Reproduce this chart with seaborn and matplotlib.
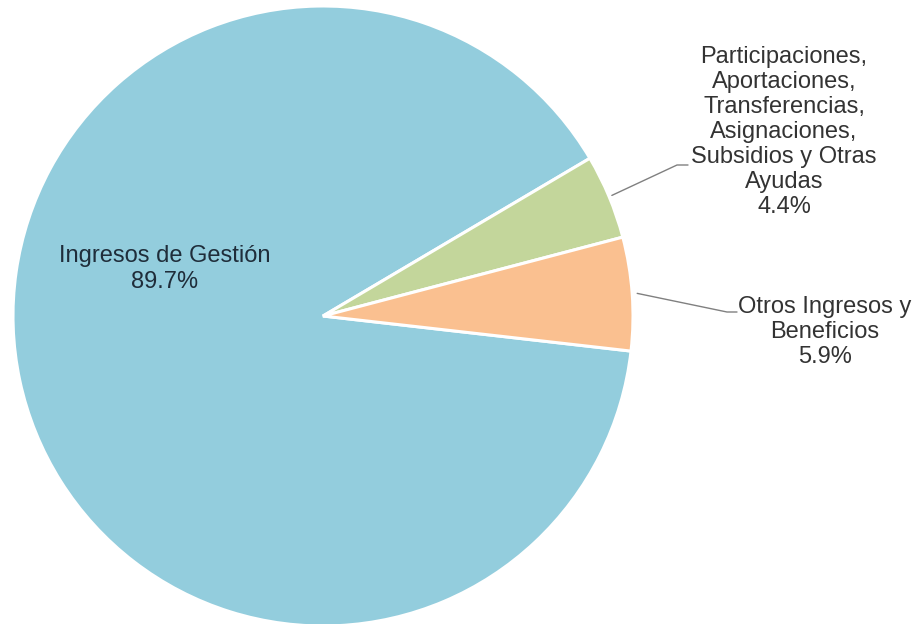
import matplotlib
matplotlib.use("Agg")
import matplotlib.pyplot as plt
import seaborn as sns
import numpy as np

categories = ["Ingresos de Gestión",
              "Participaciones,\nAportaciones,\nTransferencias,\nAsignaciones,\nSubsidios y Otras\nAyudas",
              "Otros Ingresos y\nBeneficios"]
values = [89.7, 4.4, 5.9]
colors = ["#93CDDD", "#C3D69B", "#FAC090"]

sns.set_theme(style="white")
plt.rcParams['font.family'] = ['Liberation Sans', 'DejaVu Sans']

W, H = 920, 624
fig = plt.figure(figsize=(W / 100, H / 100), dpi=100)
ax = fig.add_axes([0, 0, 1, 1])

cx, cy, R = 323, H - 316, 310
wedges, _ = ax.pie(values, colors=colors, startangle=-6.5, counterclock=False,
                   center=(cx, cy), radius=R,
                   wedgeprops=dict(edgecolor="white", linewidth=2.2))
ax.set_xlim(0, W)
ax.set_ylim(0, H)
ax.set_aspect("equal")
ax.axis("off")

txt_color = "#333333"
fs = 17

# Inside label
ax.text(165, H - 269, f"{categories[0]}\n{values[0]:.1f}%", ha="center", va="center",
        fontsize=fs, color="#1f2d3a", linespacing=1.18)

def mid_point(w, r):
    ang = np.deg2rad((w.theta1 + w.theta2) / 2)
    return cx + r * np.cos(ang), cy + r * np.sin(ang)

# Participaciones label
x0, y0 = mid_point(wedges[1], R + 3)
ax.plot([x0, 677, 688], [y0, H - 165, H - 165], color="#808080", lw=1)
ax.text(784, H - 132, f"{categories[1]}\n{values[1]:.1f}%", ha="center", va="center",
        fontsize=fs, color=txt_color, linespacing=1.18)

# Otros label
x0, y0 = mid_point(wedges[2], R + 5)
ax.plot([x0, 727, 737], [y0, H - 312, H - 312], color="#808080", lw=1)
ax.text(825, H - 332, f"{categories[2]}\n{values[2]:.1f}%", ha="center", va="center",
        fontsize=fs, color=txt_color, linespacing=1.18)

fig.savefig("out.png", dpi=100)
